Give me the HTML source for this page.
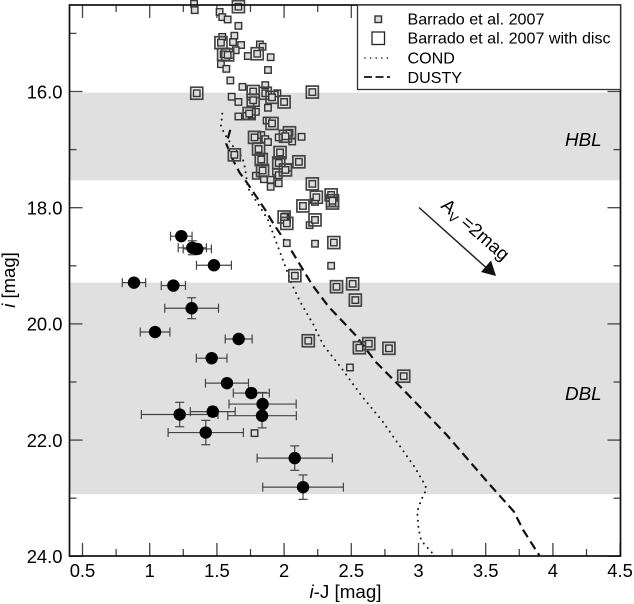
<!DOCTYPE html>
<html lang="en">
<head>
<meta charset="utf-8">
<title>Colour-magnitude diagram</title>
<style>
html,body{margin:0;padding:0;background:#fff;}
svg{display:block;font-family:"Liberation Sans",Arial,sans-serif;}
</style>
</head>
<body>
<svg id="chart" xmlns="http://www.w3.org/2000/svg" width="634" height="604" viewBox="0 0 634 604">
  <g id="bands"></g>
  <g id="ticks"></g>
  <g id="cond"></g>
  <g id="dusty"></g>
  <g id="members"></g>
  <g id="discs"></g>
  <g id="targets"></g>
  <rect x="69.5" y="5" width="551" height="551" fill="none" stroke="#111" stroke-width="1.7"/>
  <g id="labels"></g>
  <text x="345.5" y="598" font-size="18.8" text-anchor="middle"><tspan font-style="italic">i</tspan>-J [mag]</text>
  <text transform="translate(15,280) rotate(-90)" font-size="18.5" text-anchor="middle"><tspan font-style="italic">i</tspan> [mag]</text>
  <text x="565" y="146" font-size="18.8" font-style="italic">HBL</text>
  <text x="565" y="400" font-size="18.8" font-style="italic">DBL</text>
  <g>
    <line x1="419" y1="207.5" x2="486" y2="267.5" stroke="#222" stroke-width="1.5"/>
    <polygon points="496,276 481,272 491,260.5" fill="#111"/>
    <text transform="translate(440,207) rotate(41)" font-size="18.5">A<tspan font-size="13" dy="4">V</tspan><tspan dy="-4"> =2mag</tspan></text>
  </g>
  <g>
    <rect x="357.5" y="5" width="263" height="84.5" fill="#fff" stroke="#333" stroke-width="1.3"/>
    <rect x="375" y="16" width="6.5" height="6.5" fill="#ddd" stroke="#333" stroke-width="1.4"/>
    <text x="407.5" y="24.5" font-size="16.1">Barrado et al. 2007</text>
    <rect x="372" y="32" width="12.5" height="12.5" fill="none" stroke="#222" stroke-width="1.3"/>
    <text x="407.5" y="43.5" font-size="16.1">Barrado et al. 2007 with disc</text>
    <line x1="365" y1="58" x2="392" y2="58" stroke="#111" stroke-width="1.6" stroke-linecap="round" stroke-dasharray="0 5.6"/>
    <text x="407.5" y="63.5" font-size="16.1">COND</text>
    <line x1="364" y1="77" x2="393" y2="77" stroke="#111" stroke-width="1.7" stroke-dasharray="8 3.5 8 3.5 3 9"/>
    <text x="407.5" y="83" font-size="16.1">DUSTY</text>
  </g>
</svg>
<script>
const xMajorTicks = [0.5, 1, 1.5, 2, 2.5, 3, 3.5, 4, 4.5];
const xTickLabels = ["0.5", "1", "1.5", "2", "2.5", "3", "3.5", "4", "4.5"];
const xMinorTicks = [0.75, 1.25, 1.75, 2.25, 2.75, 3.25, 3.75, 4.25];
const yMajorTicks = [16, 18, 20, 22, 24];
const yTickLabels = ["16.0", "18.0", "20.0", "22.0", "24.0"];
const yMinorTicks = [15, 17, 19, 21, 23];
const bandRanges = [[16.02, 17.53], [19.29, 22.93]];

const memberColour = [1.33,1.335,1.52,1.54,1.58,1.66,1.54,1.63,1.62,1.68,1.64,1.60,1.73,1.82,1.84,1.90,1.53,1.57,1.88,1.60,1.69,1.86,1.61,1.66,1.95,1.75,1.88,1.66,1.72,1.76,1.79,1.87,2.13,1.83,1.96,2.06,1.86,1.88,2.03,1.94,1.79,1.85,1.96,1.90,1.90,1.96,2.23,2.01,2.19,2.02,2.23,2.35,2.49,1.78];
const memberMag = [14.49,14.60,14.63,14.72,14.76,14.87,15.06,15.04,15.15,15.20,15.29,15.37,15.39,15.19,15.23,15.41,15.53,15.61,15.63,15.81,15.92,15.89,16.09,16.18,16.03,16.20,16.28,16.43,16.42,16.40,16.35,16.50,16.78,16.75,16.79,16.86,16.82,16.87,17.31,17.38,17.45,17.51,17.58,17.52,17.64,17.44,17.90,18.15,18.30,18.61,18.62,19.00,20.75,21.88];

const discColour = [1.66,1.53,1.55,1.58,1.80,1.35,2.21,1.77,1.86,1.91,1.77,2.00,1.74,1.91,2.04,1.78,2.01,1.81,1.97,1.83,2.11,1.63,1.96,2.01,1.84,2.21,2.35,2.24,2.36,2.36,2.14,2.00,2.02,2.23,2.37,2.08,2.39,2.51,2.53,2.18,2.63,2.56,2.78,2.89];
const discMag = [14.54,15.16,15.36,15.37,15.35,16.03,16.01,16.00,16.03,16.10,16.15,16.18,16.38,16.55,16.71,16.79,16.77,16.99,17.05,17.17,17.21,17.09,17.23,17.35,17.36,17.59,17.78,17.82,17.92,17.88,17.97,18.16,18.27,18.21,18.60,19.17,19.36,19.31,19.59,20.29,20.34,20.41,20.42,20.90];

const targetColour = [1.235,1.317,1.354,1.478,0.883,1.176,1.312,1.04,1.662,1.461,1.575,1.756,1.84,1.836,1.469,1.223,1.417,2.079,2.141];
const targetMag = [18.49,18.69,18.71,18.99,19.29,19.34,19.73,20.14,20.26,20.59,21.02,21.19,21.38,21.58,21.51,21.56,21.87,22.31,22.81];
const targetColourErr = [0.08,0.105,0.105,0.13,0.087,0.09,0.20,0.11,0.10,0.114,0.16,0.134,0.25,0.255,0.167,0.285,0.28,0.28,0.30];
const targetMagErr = [0.05,0.12,0.08,0.06,0.05,0.05,0.18,0.05,0.05,0.05,0.06,0.07,0.20,0.21,0.08,0.21,0.21,0.21,0.21];

const condColour = [1.54,1.536,1.53,1.548,1.58,1.635,1.69,1.71,1.73,1.81,1.88,1.93,1.98,2.06,2.12,2.22,2.29,2.42,2.58,2.73,2.86,2.97,3.04,3.06,3.02,2.99,3.00,3.02,3.12];
const condMag = [16.38,16.48,16.59,16.69,16.82,16.99,17.13,17.32,17.66,17.95,18.21,18.52,18.83,19.33,19.62,20.02,20.36,20.74,21.25,21.67,22.10,22.46,22.74,22.84,23.03,23.23,23.52,23.73,23.99];

const dustyColour = [1.60,1.57,1.62,1.67,1.73,1.86,1.92,2.06,2.21,2.33,2.53,2.68,2.89,3.21,3.52,3.71,3.78,3.90];
const dustyMag = [16.66,16.90,17.18,17.40,17.59,18.04,18.27,18.76,19.33,19.70,20.19,20.65,21.14,21.91,22.74,23.23,23.55,23.99];

const SVGNS = "http://www.w3.org/2000/svg";
const plotLeft = 69.5, plotRight = 620.5, plotTop = 5, plotBottom = 556;
function xScale(v) { return 82.5 + (v - 0.5) * 134.4; }
function yScale(v) { return 91.5 + (v - 16) * 58.1; }
function make(tag, attrs, parentId) {
  const el = document.createElementNS(SVGNS, tag);
  for (const k in attrs) el.setAttribute(k, attrs[k]);
  document.getElementById(parentId).appendChild(el);
  return el;
}

bandRanges.forEach(function (r) {
  const el = make("rect", {x: plotLeft, y: yScale(r[0]), width: plotRight - plotLeft, height: yScale(r[1]) - yScale(r[0]), fill: "#e0e0e0"}, "bands");
  
  
});

function xTick(v, len) {
  [[plotBottom, plotBottom - len], [plotTop, plotTop + len]].forEach(function (p) {
    const el = make("line", {x1: xScale(v), x2: xScale(v), y1: p[0], y2: p[1], stroke: "#444", "stroke-width": 1.3}, "ticks");
    
    
  });
}
function yTick(v, len) {
  [[plotLeft, plotLeft + len], [plotRight, plotRight - len]].forEach(function (p) {
    const el = make("line", {y1: yScale(v), y2: yScale(v), x1: p[0], x2: p[1], stroke: "#444", "stroke-width": 1.3}, "ticks");
    
    
  });
}
xMajorTicks.forEach(function (v) { xTick(v, 13); });
xMinorTicks.forEach(function (v) { xTick(v, 7); });
yMajorTicks.forEach(function (v) { yTick(v, 13); });
yMinorTicks.forEach(function (v) { yTick(v, 7); });

xMajorTicks.forEach(function (v, i) {
  const el = make("text", {x: xScale(v), y: 577, "font-size": 18.4, "text-anchor": "middle"}, "labels");
  el.textContent = xTickLabels[i];
  
  
});
yMajorTicks.forEach(function (v, i) {
  const el = make("text", {x: 62.5, y: yScale(v) + 6.8, "font-size": 18.4, "text-anchor": "end"}, "labels");
  el.textContent = yTickLabels[i];
  
  
});

function linePath(xs, ys) {
  return xs.map(function (x, i) { return (i ? "L" : "M") + xScale(x).toFixed(1) + " " + yScale(ys[i]).toFixed(1); }).join(" ");
}
const condLine = make("path", {d: linePath(condColour, condMag), fill: "none", stroke: "#111", "stroke-width": 2, "stroke-linecap": "round", "stroke-dasharray": "0 6"}, "cond");


const dustyLine = make("path", {d: linePath(dustyColour, dustyMag), fill: "none", stroke: "#111", "stroke-width": 2.2, "stroke-dasharray": "9 5"}, "dusty");



memberColour.forEach(function (c, i) {
  const s = 6.5;
  const el = make("rect", {x: xScale(c) - s / 2, y: yScale(memberMag[i]) - s / 2, width: s, height: s, fill: "#ddd", stroke: "#333", "stroke-width": 1.4}, "members");
  
  
});
discColour.forEach(function (c, i) {
  const s = 6.5, b = 12;
  const inner = make("rect", {x: xScale(c) - s / 2, y: yScale(discMag[i]) - s / 2, width: s, height: s, fill: "#ddd", stroke: "#333", "stroke-width": 1.4}, "discs");
  
  
  const outer = make("rect", {x: xScale(c) - b / 2, y: yScale(discMag[i]) - b / 2, width: b, height: b, fill: "none", stroke: "#444", "stroke-width": 1.7}, "discs");
  
  
});

targetColour.forEach(function (c, i) {
  const x = xScale(c), y = yScale(targetMag[i]);
  const x1 = xScale(c - targetColourErr[i]), x2 = xScale(c + targetColourErr[i]);
  const y1 = yScale(targetMag[i] - targetMagErr[i]), y2 = yScale(targetMag[i] + targetMagErr[i]);
  const segments = [[x1, y, x2, y], [x1, y - 4.5, x1, y + 4.5], [x2, y - 4.5, x2, y + 4.5], [x, y1, x, y2], [x - 4.5, y1, x + 4.5, y1], [x - 4.5, y2, x + 4.5, y2]];
  segments.forEach(function (p) {
    const seg = make("line", {x1: p[0], y1: p[1], x2: p[2], y2: p[3], stroke: "#444", "stroke-width": 1.2}, "targets");
    
    
  });
});
targetColour.forEach(function (c, i) {
  const dot = make("circle", {cx: xScale(c), cy: yScale(targetMag[i]), r: 6.2, fill: "#000"}, "targets");
  
  
});
</script>
</body>
</html>
